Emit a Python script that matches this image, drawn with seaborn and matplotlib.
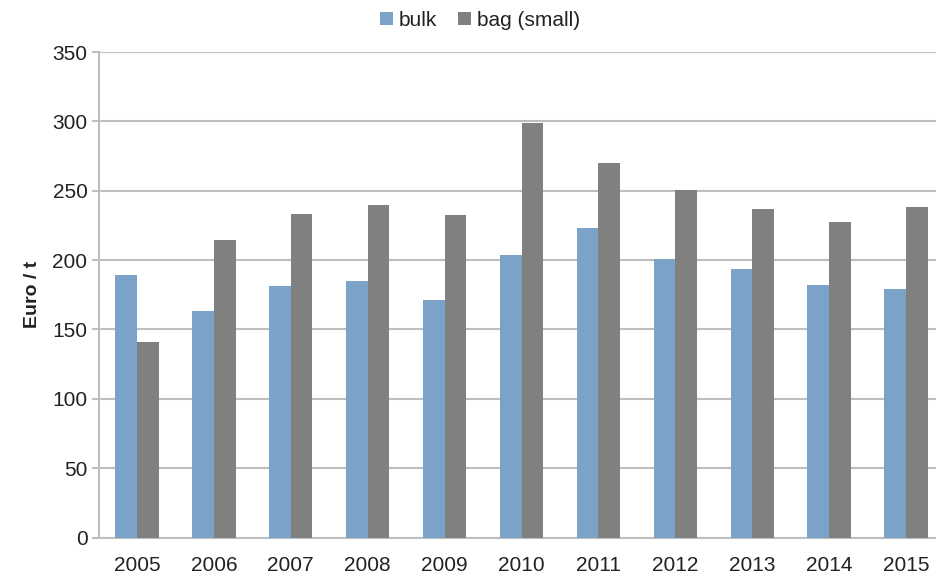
import matplotlib
matplotlib.use("Agg")
import matplotlib.pyplot as plt
import seaborn as sns
import pandas as pd

years = ["2005", "2006", "2007", "2008", "2009", "2010", "2011", "2012", "2013", "2014", "2015"]
bulk = [189.5, 163.3, 181.1, 185.2, 171.3, 203.8, 223.0, 200.9, 193.9, 181.8, 178.9]
bag_small = [140.6, 214.3, 233.4, 239.6, 232.6, 298.6, 269.7, 250.2, 237.0, 227.8, 238.4]
series = ["bulk", "bag (small)"]
yticks = [0, 50, 100, 150, 200, 250, 300, 350]

df = pd.DataFrame({
    "year": years * 2,
    "value": bulk + bag_small,
    "series": [series[0]] * len(years) + [series[1]] * len(years),
})

sns.set_theme(style="white")
plt.rcParams["font.family"] = ["Liberation Sans", "DejaVu Sans"]

fig = plt.figure(figsize=(9.36, 5.77), dpi=100)
ax = fig.add_axes([98.5 / 936, 1 - 537.5 / 577, 846 / 936, 485.5 / 577])

palette = {"bulk": "#7BA3C8", "bag (small)": "#808080"}
sns.barplot(data=df, x="year", y="value", hue="series", hue_order=series,
            palette=palette, width=0.565, saturation=1, ax=ax, zorder=3,
            edgecolor="none", linewidth=0, legend=True)

ax.set_xlim(-0.5, 10.5)
ax.set_ylim(0, 350)
ax.set_yticks(yticks)
ax.yaxis.grid(True, color="#BEBEBE", linewidth=1.5, zorder=0)
ax.xaxis.grid(False)
ax.set_axisbelow(True)

for side in ["top", "right"]:
    ax.spines[side].set_visible(False)
ax.spines["left"].set_color("#BEBEBE")
ax.spines["left"].set_linewidth(1.5)
ax.spines["bottom"].set_color("#BEBEBE")
ax.spines["bottom"].set_linewidth(1.5)

ax.tick_params(axis="y", which="both", left=True, length=5, width=1.5,
               color="#BEBEBE", labelsize=15, pad=3, labelcolor="#222222")
ax.tick_params(axis="x", bottom=False, length=0, labelsize=15, pad=13, labelcolor="#222222")

ax.set_xlabel("")
ax.set_ylabel("Euro / t", fontsize=14, fontweight="bold", color="#222222", labelpad=8)

handles, labels = ax.get_legend_handles_labels()
ax.get_legend().remove()
fig.legend(handles=handles, labels=labels, loc="center", bbox_to_anchor=(480 / 936, 1 - 20 / 577),
           ncol=2, frameon=False, fontsize=15, handlelength=0.6, handleheight=0.6,
           handletextpad=0.3, columnspacing=1.0, labelcolor="#222222")

fig.savefig("out.png", dpi=100)
